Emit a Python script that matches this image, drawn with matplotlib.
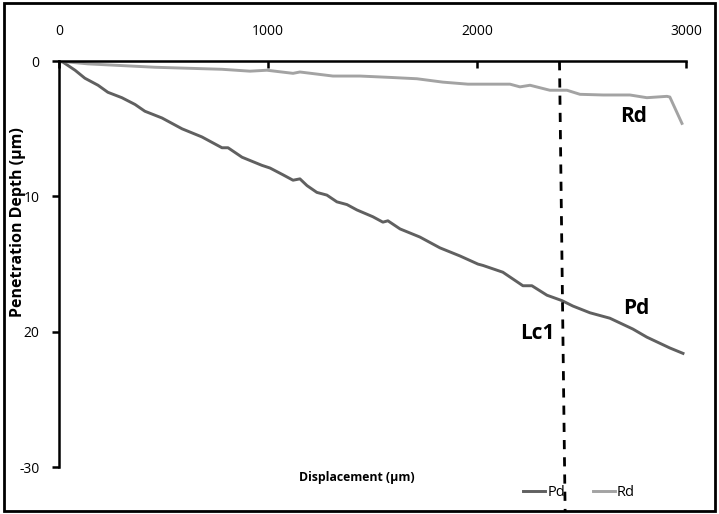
import matplotlib.pyplot as plt
import numpy as np

plt.rcParams['font.family'] = ['Open Sans', 'DejaVu Sans']

# Penetration depth (Pd) along the scratch
pd_x = [0, 19, 77, 124, 187, 234, 301, 364, 411, 493, 589, 684, 780, 809, 876, 971,
        1010, 1072, 1120, 1153, 1187, 1234, 1282, 1330, 1378, 1426, 1502, 1550, 1574,
        1632, 1727, 1823, 1919, 2005, 2029, 2124, 2220, 2263, 2335, 2407, 2459, 2541,
        2636, 2746, 2813, 2923, 2986]
pd_y = [0, -0.07, -0.67, -1.26, -1.78, -2.3, -2.7, -3.2, -3.7, -4.2, -5.0, -5.6, -6.4,
        -6.4, -7.1, -7.7, -7.9, -8.4, -8.8, -8.7, -9.2, -9.7, -9.9, -10.4, -10.6, -11.0,
        -11.5, -11.9, -11.8, -12.4, -13.0, -13.8, -14.4, -15.0, -15.1, -15.6, -16.6,
        -16.6, -17.3, -17.7, -18.1, -18.6, -19.0, -19.8, -20.4, -21.2, -21.6]

# Residual depth (Rd)
rd_x = [0, 139, 459, 780, 914, 995, 1120, 1153, 1311, 1440, 1584, 1713, 1837, 1957,
        2158, 2206, 2254, 2349, 2431, 2493, 2603, 2732, 2813, 2909, 2923, 2981]
rd_y = [0, -0.2, -0.45, -0.6, -0.74, -0.67, -0.9, -0.8, -1.1, -1.1, -1.2, -1.3, -1.55,
        -1.7, -1.7, -1.9, -1.78, -2.15, -2.15, -2.45, -2.5, -2.5, -2.7, -2.6, -2.65, -4.6]

xticks = [0, 1000, 2000, 3000]
yticks = [0, -10, -20, -30]
ytick_labels = ['0', '10', '20', '-30']
lc1 = 2400

fig = plt.figure(figsize=(7.19, 5.14), dpi=100)
ax = fig.add_axes([0.082, 0.0914, 0.872, 0.7896])

ax.plot(pd_x, pd_y, color='#606060', lw=2.1, label='Pd')
ax.plot(rd_x, rd_y, color='#a3a3a3', lw=2.1, label='Rd')

# critical load marker, runs past the bottom of the axes
ax.plot([lc1 - 5, lc1 + 22], [0, -33.3], color='black', lw=2, ls=(0, (3.3, 2.9)),
        clip_on=False, zorder=5)

ax.set_xlim(0, 3000)
ax.set_ylim(-30, 0)
ax.set_xticks(xticks)
ax.set_yticks(yticks)
ax.set_yticklabels(ytick_labels)

ax.spines['right'].set_visible(False)
ax.spines['bottom'].set_visible(False)
for s in ['top', 'left']:
    ax.spines[s].set_linewidth(1.8)
ax.xaxis.tick_top()
ax.tick_params(axis='x', direction='in', length=5, width=1.8, pad=16, labelsize=10)
ax.tick_params(axis='y', direction='out', length=5, width=1.8, pad=9, labelsize=10)

fig.text(0.025, 1 - 222 / 514, 'Penetration Depth (µm)', rotation=90, ha='center',
         va='center', fontsize=11.5, fontweight='bold')
fig.text(357 / 719, 1 - 478 / 514, 'Displacement (µm)', ha='center', va='center',
         fontsize=8.8, fontweight='bold')

ax.text(2750, -4.1, 'Rd', fontsize=15, fontweight='bold', ha='center', va='center')
ax.text(2760, -18.3, 'Pd', fontsize=15, fontweight='bold', ha='center', va='center')
ax.text(2290, -20.1, 'Lc1', fontsize=15, fontweight='bold', ha='center', va='center')

ax.legend(loc='center', bbox_to_anchor=(579 / 719, 1 - 493 / 514),
          bbox_transform=fig.transFigure, ncol=2, frameon=False, fontsize=10.5,
          handlelength=1.5, handletextpad=0.15, columnspacing=1.9)

# border around the whole figure
fig.patches.append(plt.Rectangle((0.005, 0.006), 0.99, 0.988, transform=fig.transFigure,
                                 fill=False, edgecolor='black', lw=2))

fig.savefig('out.png', dpi=100)
